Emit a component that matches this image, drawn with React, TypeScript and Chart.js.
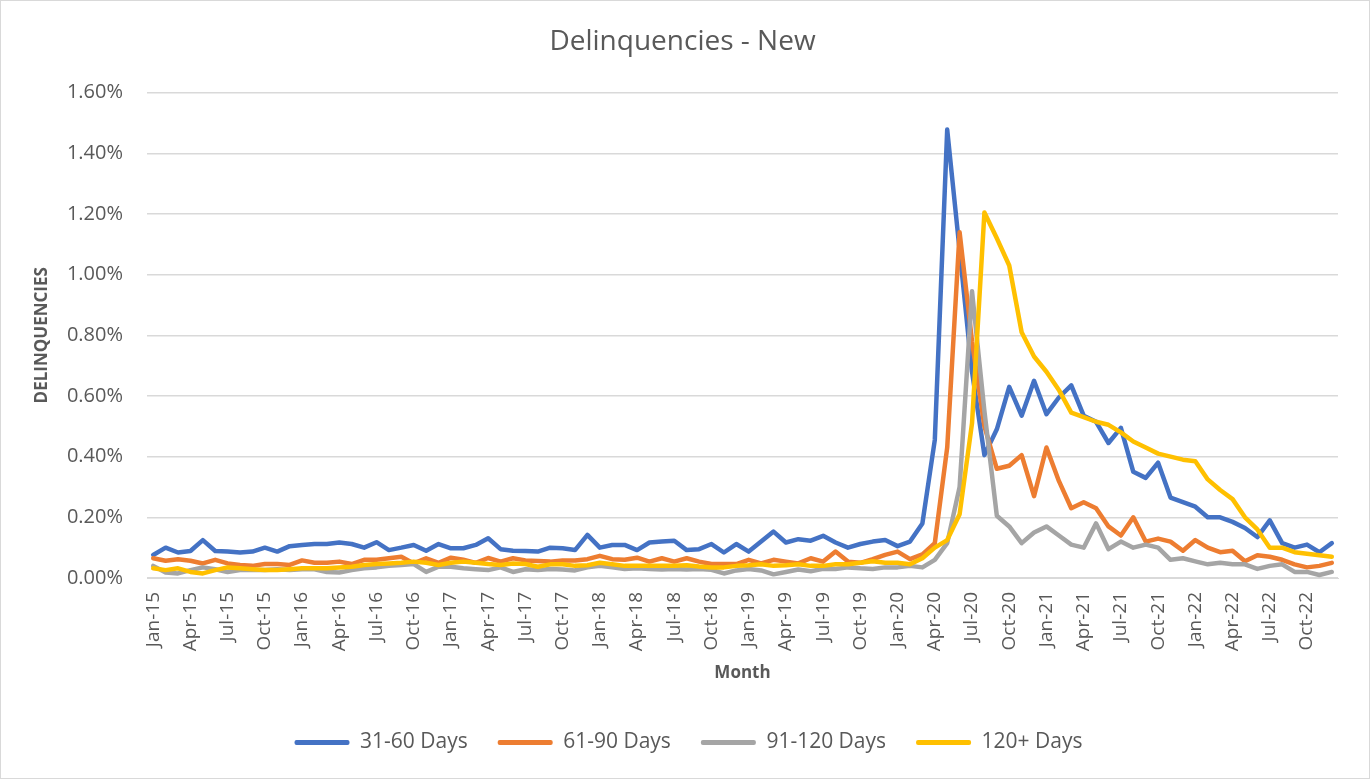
import React, { useEffect, useRef } from "react";
import { Chart, registerables } from "chart.js";

Chart.register(...registerables);

const monthNames = ["Jan", "Feb", "Mar", "Apr", "May", "Jun", "Jul", "Aug", "Sep", "Oct", "Nov", "Dec"];
const yearSuffixes = ["15", "16", "17", "18", "19", "20", "21", "22"];
const categories: string[] = [];
for (const y of yearSuffixes) for (const m of monthNames) categories.push(`${m}-${y}`);

const days31to60 = [
  0.076, 0.10, 0.084, 0.089, 0.125, 0.089, 0.087, 0.084, 0.087, 0.10, 0.087, 0.105,
  0.109, 0.112, 0.112, 0.117, 0.112, 0.10, 0.118, 0.092, 0.10, 0.109, 0.09, 0.112,
  0.098, 0.098, 0.109, 0.131, 0.095, 0.09, 0.089, 0.087, 0.10, 0.098, 0.092, 0.142,
  0.10, 0.109, 0.109, 0.092, 0.117, 0.12, 0.123, 0.092, 0.095, 0.112, 0.084, 0.112,
  0.087, 0.12, 0.153, 0.117, 0.128, 0.123, 0.139, 0.117, 0.10, 0.112, 0.12, 0.125,
  0.105, 0.12, 0.18, 0.455, 1.478, 1.08, 0.68, 0.405, 0.49, 0.63, 0.535, 0.65,
  0.54, 0.595, 0.635, 0.535, 0.515, 0.445, 0.495, 0.35, 0.33, 0.38, 0.265, 0.25,
  0.235, 0.20, 0.20, 0.185, 0.165, 0.135, 0.19, 0.115, 0.10, 0.11, 0.085, 0.115,
];

const days61to90 = [
  0.065, 0.057, 0.062, 0.057, 0.048, 0.06, 0.048, 0.043, 0.04, 0.046, 0.046, 0.043,
  0.058, 0.05, 0.05, 0.054, 0.046, 0.06, 0.06, 0.065, 0.07, 0.048, 0.065, 0.05,
  0.067, 0.06, 0.05, 0.066, 0.054, 0.065, 0.058, 0.056, 0.054, 0.058, 0.058, 0.062,
  0.073, 0.062, 0.06, 0.067, 0.054, 0.065, 0.054, 0.065, 0.054, 0.046, 0.046, 0.046,
  0.06, 0.048, 0.06, 0.054, 0.048, 0.065, 0.054, 0.087, 0.054, 0.05, 0.062, 0.076,
  0.087, 0.062, 0.078, 0.115, 0.43, 1.14, 0.78, 0.50, 0.36, 0.37, 0.405, 0.27,
  0.43, 0.32, 0.23, 0.25, 0.23, 0.17, 0.14, 0.20, 0.12, 0.13, 0.12, 0.09,
  0.125, 0.10, 0.085, 0.09, 0.055, 0.075, 0.07, 0.06, 0.045, 0.035, 0.04, 0.05,
];

const days91to120 = [
  0.04, 0.018, 0.015, 0.026, 0.035, 0.029, 0.02, 0.026, 0.026, 0.026, 0.029, 0.026,
  0.029, 0.029, 0.02, 0.018, 0.026, 0.032, 0.035, 0.04, 0.043, 0.046, 0.02, 0.037,
  0.037, 0.032, 0.029, 0.026, 0.035, 0.02, 0.029, 0.026, 0.03, 0.028, 0.025, 0.035,
  0.04, 0.035, 0.03, 0.032, 0.03, 0.028, 0.03, 0.028, 0.03, 0.027, 0.015, 0.025,
  0.03, 0.025, 0.012, 0.02, 0.028, 0.022, 0.03, 0.03, 0.035, 0.032, 0.03, 0.035,
  0.035, 0.04, 0.035, 0.06, 0.115, 0.30, 0.945, 0.55, 0.205, 0.17, 0.115, 0.15,
  0.17, 0.14, 0.11, 0.10, 0.18, 0.095, 0.12, 0.10, 0.11, 0.10, 0.06, 0.065,
  0.055, 0.045, 0.05, 0.045, 0.045, 0.03, 0.04, 0.045, 0.02, 0.02, 0.01, 0.02,
];

const days120plus = [
  0.032, 0.026, 0.032, 0.02, 0.015, 0.026, 0.035, 0.032, 0.029, 0.026, 0.026, 0.029,
  0.032, 0.032, 0.032, 0.035, 0.037, 0.043, 0.046, 0.048, 0.05, 0.054, 0.05, 0.043,
  0.05, 0.054, 0.05, 0.046, 0.043, 0.048, 0.046, 0.037, 0.045, 0.045, 0.04, 0.042,
  0.05, 0.045, 0.04, 0.04, 0.04, 0.04, 0.04, 0.042, 0.038, 0.035, 0.035, 0.04,
  0.042, 0.045, 0.04, 0.042, 0.045, 0.04, 0.04, 0.045, 0.045, 0.05, 0.055, 0.05,
  0.05, 0.045, 0.065, 0.10, 0.125, 0.21, 0.51, 1.205, 1.12, 1.03, 0.81, 0.73,
  0.68, 0.62, 0.545, 0.53, 0.515, 0.505, 0.48, 0.45, 0.43, 0.41, 0.40, 0.39,
  0.385, 0.325, 0.29, 0.26, 0.20, 0.16, 0.10, 0.10, 0.085, 0.08, 0.075, 0.07,
];

const seriesNames = ["31-60 Days", "61-90 Days", "91-120 Days", "120+ Days"];
const seriesColors = ["#4472C4", "#ED7D31", "#A5A5A5", "#FFC000"];
const yTicks = [0, 0.2, 0.4, 0.6, 0.8, 1.0, 1.2, 1.4, 1.6];

const FONT = "'Open Sans', 'Noto Sans', sans-serif";
const TEXT = "#595959";

const shiftPlugin = {
  id: "shiftBlocks",
  afterLayout(chart: any) {
    const l = chart.legend;
    if (l) { l.left += 19; l.right += 19; }
    const t = chart.titleBlock;
    if (t) { t.left += 13; t.right += 13; }
  },
};

export default function App() {
  const ref = useRef<HTMLCanvasElement | null>(null);
  useEffect(() => {
    if (!ref.current) return;
    const values = [days31to60, days61to90, days91to120, days120plus];
    const chart = new Chart(ref.current, {
      type: "line",
      data: {
        labels: categories,
        datasets: values.map((v, i) => ({
          label: seriesNames[i],
          data: v,
          borderColor: seriesColors[i],
          backgroundColor: seriesColors[i],
          borderWidth: 4.5,
          pointRadius: 0,
          tension: 0,
          fill: false,
          order: 3 - i,
          borderJoinStyle: "round" as const,
          borderCapStyle: "round" as const,
        })),
      },
      options: {
        responsive: false,
        animation: false,
        layout: { padding: { left: 0, right: 31, top: 0, bottom: 15 } },
        plugins: {
          title: {
            display: true,
            text: "Delinquencies - New",
            color: TEXT,
            font: { family: FONT, size: 28, weight: "normal" },
            padding: { top: 24, bottom: 34 },
          },
          legend: {
            display: true,
            position: "bottom",
            labels: {
              color: TEXT,
              font: { family: FONT, size: 21 },
              boxWidth: 55,
              boxHeight: 5,
              padding: 30,
              generateLabels: (c: any) => {
                const items = (Chart.defaults as any).plugins.legend.labels.generateLabels(c);
                return items
                  .map((it: any) => ({ ...it, lineWidth: 0, borderRadius: 2 }))
                  .sort((a: any, b: any) => a.datasetIndex - b.datasetIndex);
              },
            },
          },
          tooltip: { enabled: false },
        },
        scales: {
          x: {
            type: "category",
            offset: true,
            grid: { display: false, drawTicks: false },
            border: { display: true, color: "#d9d9d9", width: 1 },
            afterFit: (s: any) => {
              s.paddingLeft = 0;
              s.paddingRight = 0;
              s.height = 124;
            },
            ticks: {
              autoSkip: false,
              maxRotation: 90,
              minRotation: 90,
              padding: 14,
              color: TEXT,
              font: { family: FONT, size: 19 },
              callback: function (this: any, value: any, index: number) {
                return index % 3 === 0 ? this.getLabelForValue(value) : "";
              },
            },
            title: {
              display: true,
              text: "Month",
              color: TEXT,
              font: { family: FONT, size: 17, weight: "bold" },
              padding: { top: 8, bottom: 19 },
            },
          },
          y: {
            min: 0,
            max: 1.6,
            afterBuildTicks: (s: any) => {
              s.ticks = yTicks.map((v) => ({ value: v }));
            },
            afterFit: (s: any) => {
              s.width = 146;
            },
            grid: { color: "#d9d9d9", lineWidth: 1.5, drawTicks: false },
            border: { display: false },
            ticks: {
              padding: 24,
              color: TEXT,
              font: { family: FONT, size: 20 },
              callback: (v: any) => Number(v).toFixed(2) + "%",
            },
            title: {
              display: true,
              text: "DELINQUENCIES",
              color: TEXT,
              font: { family: FONT, size: 17, weight: "bold" },
              padding: { top: 31, bottom: 10 },
            },
          },
        },
      },
      plugins: [shiftPlugin],
    });
    return () => chart.destroy();
  }, []);

  return (
    <div
      style={{
        position: "absolute",
        left: 0,
        top: 0,
        width: 1370,
        height: 779,
        boxSizing: "border-box",
        border: "1px solid #d9d9d9",
        background: "#ffffff",
      }}
    >
      <canvas ref={ref} width={1368} height={777} style={{ display: "block" }} />
    </div>
  );
}
